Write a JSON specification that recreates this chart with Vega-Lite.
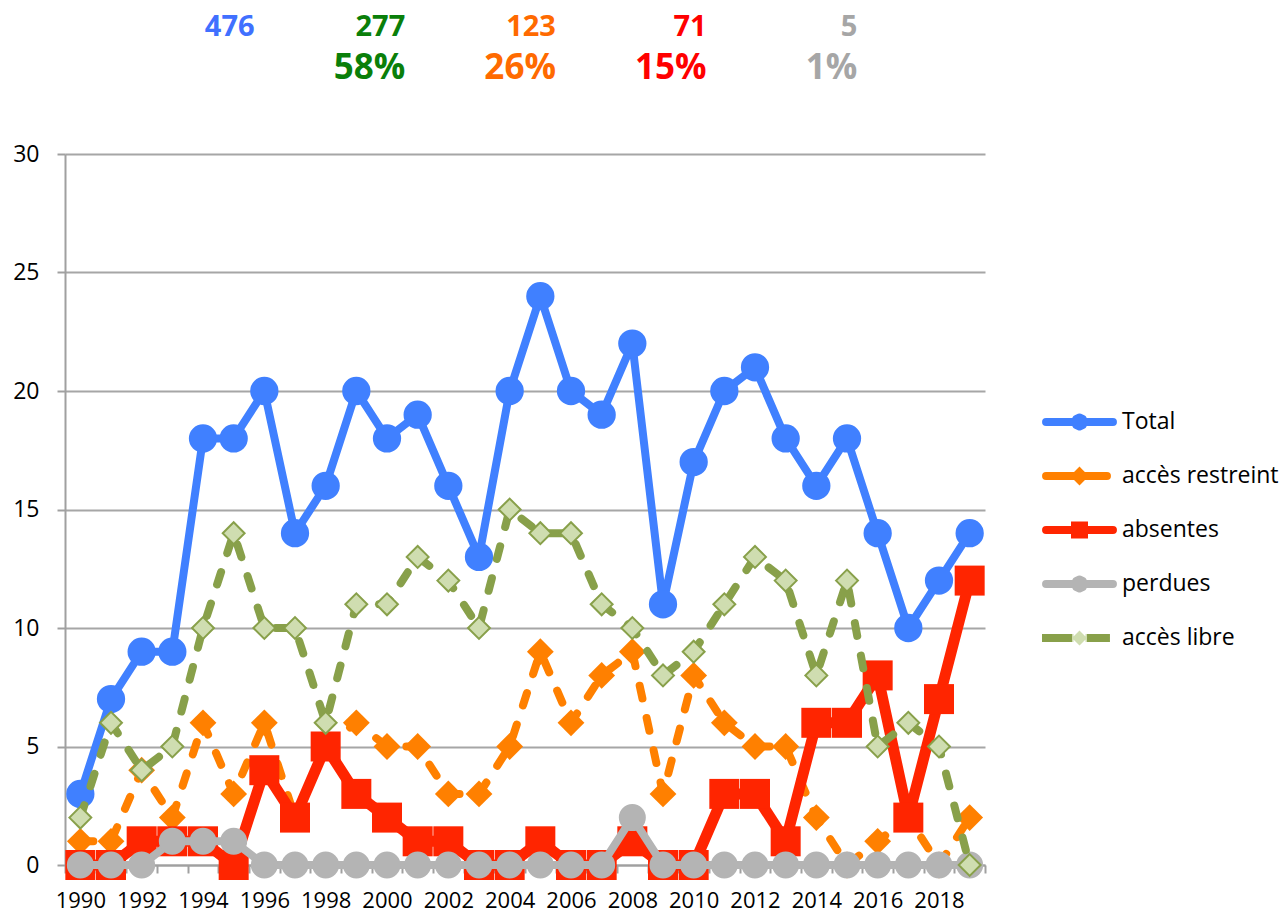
{
  "$schema": "https://vega.github.io/schema/vega-lite/v6.json",
  "width": 920,
  "height": 711,
  "autosize": {"type": "none"},
  "padding": {"left": 65, "top": 154, "right": 299, "bottom": 47},
  "config": {
    "font": "Open Sans",
    "view": {"stroke": null},
    "axis": {"labelFont": "Open Sans", "labelFontSize": 22, "labelColor": "#000000"}
  },
  "layer": [
    {
      "data": {
        "values": [
          {"year": 1990, "total": 3, "restreint": 1, "absentes": 0, "perdues": 0, "libre": 2},
          {"year": 1991, "total": 7, "restreint": 1, "absentes": 0, "perdues": 0, "libre": 6},
          {"year": 1992, "total": 9, "restreint": 4, "absentes": 1, "perdues": 0, "libre": 4},
          {"year": 1993, "total": 9, "restreint": 2, "absentes": 1, "perdues": 1, "libre": 5},
          {"year": 1994, "total": 18, "restreint": 6, "absentes": 1, "perdues": 1, "libre": 10},
          {"year": 1995, "total": 18, "restreint": 3, "absentes": 0, "perdues": 1, "libre": 14},
          {"year": 1996, "total": 20, "restreint": 6, "absentes": 4, "perdues": 0, "libre": 10},
          {"year": 1997, "total": 14, "restreint": 2, "absentes": 2, "perdues": 0, "libre": 10},
          {"year": 1998, "total": 16, "restreint": 5, "absentes": 5, "perdues": 0, "libre": 6},
          {"year": 1999, "total": 20, "restreint": 6, "absentes": 3, "perdues": 0, "libre": 11},
          {"year": 2000, "total": 18, "restreint": 5, "absentes": 2, "perdues": 0, "libre": 11},
          {"year": 2001, "total": 19, "restreint": 5, "absentes": 1, "perdues": 0, "libre": 13},
          {"year": 2002, "total": 16, "restreint": 3, "absentes": 1, "perdues": 0, "libre": 12},
          {"year": 2003, "total": 13, "restreint": 3, "absentes": 0, "perdues": 0, "libre": 10},
          {"year": 2004, "total": 20, "restreint": 5, "absentes": 0, "perdues": 0, "libre": 15},
          {"year": 2005, "total": 24, "restreint": 9, "absentes": 1, "perdues": 0, "libre": 14},
          {"year": 2006, "total": 20, "restreint": 6, "absentes": 0, "perdues": 0, "libre": 14},
          {"year": 2007, "total": 19, "restreint": 8, "absentes": 0, "perdues": 0, "libre": 11},
          {"year": 2008, "total": 22, "restreint": 9, "absentes": 1, "perdues": 2, "libre": 10},
          {"year": 2009, "total": 11, "restreint": 3, "absentes": 0, "perdues": 0, "libre": 8},
          {"year": 2010, "total": 17, "restreint": 8, "absentes": 0, "perdues": 0, "libre": 9},
          {"year": 2011, "total": 20, "restreint": 6, "absentes": 3, "perdues": 0, "libre": 11},
          {"year": 2012, "total": 21, "restreint": 5, "absentes": 3, "perdues": 0, "libre": 13},
          {"year": 2013, "total": 18, "restreint": 5, "absentes": 1, "perdues": 0, "libre": 12},
          {"year": 2014, "total": 16, "restreint": 2, "absentes": 6, "perdues": 0, "libre": 8},
          {"year": 2015, "total": 18, "restreint": 0, "absentes": 6, "perdues": 0, "libre": 12},
          {"year": 2016, "total": 14, "restreint": 1, "absentes": 8, "perdues": 0, "libre": 5},
          {"year": 2017, "total": 10, "restreint": 2, "absentes": 2, "perdues": 0, "libre": 6},
          {"year": 2018, "total": 12, "restreint": 0, "absentes": 7, "perdues": 0, "libre": 5},
          {"year": 2019, "total": 14, "restreint": 2, "absentes": 12, "perdues": 0, "libre": 0}
        ]
      },
      "encoding": {
        "x": {
          "field": "year",
          "type": "quantitative",
          "scale": {"domain": [1989.5, 2019.5], "nice": false, "zero": false},
          "axis": {
            "title": null,
            "values": [1989.5, 1990.5, 1991.5, 1992.5, 1993.5, 1994.5, 1995.5, 1996.5, 1997.5, 1998.5, 1999.5, 2000.5, 2001.5, 2002.5, 2003.5, 2004.5, 2005.5, 2006.5, 2007.5, 2008.5, 2009.5, 2010.5, 2011.5, 2012.5, 2013.5, 2014.5, 2015.5, 2016.5, 2017.5, 2018.5, 2019.5],
            "labelExpr": "((datum.value + 0.5) % 2 === 0 && datum.value < 2019) ? format(datum.value + 0.5, 'd') : ''",
            "labelOffset": 15.33,
            "labelFlush": false,
            "labelOverlap": false,
            "grid": false,
            "domain": true,
            "domainColor": "#A0A0A0",
            "domainWidth": 2,
            "tickColor": "#A0A0A0",
            "tickWidth": 2,
            "tickSize": 8,
            "labelPadding": 17
          }
        }
      },
      "layer": [
        {
          "mark": {"type": "line", "strokeWidth": 8, "strokeCap": "round", "strokeJoin": "round"},
          "encoding": {
            "y": {
              "field": "total",
              "type": "quantitative",
              "title": null,
              "scale": {"domain": [0, 30], "nice": false, "zero": true},
              "axis": {
                "title": null,
                "values": [0, 5, 10, 15, 20, 25, 30],
                "grid": true,
                "gridColor": "#A6A6A6",
                "gridWidth": 2,
                "domainColor": "#A0A0A0",
                "domainWidth": 2,
                "tickColor": "#A0A0A0",
                "tickWidth": 2,
                "tickSize": 8,
                "labelPadding": 18,
                "labelFontSize": 23
              }
            },
            "color": {
              "datum": "Total",
              "type": "nominal",
              "scale": {
                "domain": ["Total", "accès restreint", "absentes", "perdues", "accès libre"],
                "range": ["#4080FF", "#FF8000", "#FF2500", "#B4B4B4", "#88A04A"]
              },
              "legend": {
                "title": null,
                "orient": "none",
                "legendX": 973,
                "legendY": 249,
                "padding": 0,
                "gridAlign": "all",
                "symbolSize": 900,
                "symbolStrokeWidth": 8,
                "rowPadding": 12,
                "labelOffset": 46,
                "labelLimit": 300,
                "labelFont": "Open Sans",
                "labelFontSize": 23,
                "labelColor": "#000000",
                "encoding": {
                  "symbols": {
                    "shape": {
                      "condition": [
                        {"test": "datum.value === 'Total' || datum.value === 'perdues'", "value": "M-0.73,0H3.73M1.8,0L1.712,0.212L1.5,0.3L1.288,0.212L1.2,0L1.288,-0.212L1.5,-0.3L1.712,-0.212Z"},
                        {"test": "datum.value === 'accès restreint'", "value": "M-0.73,0H3.33M1.5,-0.25L1.75,0L1.5,0.25L1.25,0Z"},
                        {"test": "datum.value === 'absentes'", "value": "M-0.73,0H3.73M1.2,-0.3H1.8V0.3H1.2Z"}
                      ],
                      "value": "M-1,-0.267H1.1V0.267H-1ZM1.5,-0.5L2,0L1.5,0.5L1,0ZM1.9,-0.267H3.53V0.267H1.9Z"
                    },
                    "fill": {
                      "condition": [
                        {"test": "datum.value === 'Total'", "value": "#4080FF"},
                        {"test": "datum.value === 'accès restreint'", "value": "#FF8000"},
                        {"test": "datum.value === 'absentes'", "value": "#FF2500"},
                        {"test": "datum.value === 'perdues'", "value": "#B4B4B4"}
                      ],
                      "value": {"gradient": "linear", "x1": 0, "y1": 0, "x2": 1, "y2": 0, "stops": [
                        {"offset": 0, "color": "#88A04A"},
                        {"offset": 0.441, "color": "#88A04A"},
                        {"offset": 0.442, "color": "#CFDDB0"},
                        {"offset": 0.661, "color": "#CFDDB0"},
                        {"offset": 0.662, "color": "#88A04A"},
                        {"offset": 1, "color": "#88A04A"}
                      ]}
                    },
                    "stroke": {
                      "condition": [
                        {"test": "datum.value === 'Total'", "value": "#4080FF"},
                        {"test": "datum.value === 'accès restreint'", "value": "#FF8000"},
                        {"test": "datum.value === 'absentes'", "value": "#FF2500"},
                        {"test": "datum.value === 'perdues'", "value": "#B4B4B4"}
                      ],
                      "value": "#88A04A"
                    },
                    "strokeOpacity": {
                      "condition": {"test": "datum.value === 'accès libre'", "value": 0},
                      "value": 1
                    },
                    "strokeWidth": {"value": 8},
                    "strokeCap": {"value": "round"},
                    "strokeJoin": {
                      "condition": {"test": "datum.value === 'Total' || datum.value === 'perdues'", "value": "round"},
                      "value": "miter"
                    },
                    "opacity": {"value": 1},
                    "size": {"value": 900}
                  }
                }
              }
            }
          }
        },
        {
          "mark": {"type": "point", "shape": "circle", "size": 800, "filled": true, "color": "#4080FF", "opacity": 1, "strokeWidth": 0},
          "encoding": {"y": {"field": "total", "type": "quantitative", "title": null}}
        },
        {
          "mark": {"type": "line", "strokeWidth": 8, "strokeCap": "round", "strokeJoin": "round", "strokeDash": [13, 20]},
          "encoding": {
            "y": {"field": "restreint", "type": "quantitative", "title": null},
            "color": {"datum": "accès restreint", "type": "nominal"}
          }
        },
        {
          "mark": {"type": "point", "shape": "diamond", "size": 720, "filled": true, "color": "#FF8000", "opacity": 1, "strokeWidth": 0},
          "encoding": {"y": {"field": "restreint", "type": "quantitative", "title": null}}
        },
        {
          "mark": {"type": "line", "strokeWidth": 11, "strokeCap": "round", "strokeJoin": "round"},
          "encoding": {
            "y": {"field": "absentes", "type": "quantitative", "title": null},
            "color": {"datum": "absentes", "type": "nominal"}
          }
        },
        {
          "mark": {"type": "point", "shape": "square", "size": 900, "filled": true, "color": "#FF2500", "opacity": 1, "strokeWidth": 0},
          "encoding": {"y": {"field": "absentes", "type": "quantitative", "title": null}}
        },
        {
          "mark": {"type": "line", "strokeWidth": 8, "strokeCap": "round", "strokeJoin": "round"},
          "encoding": {
            "y": {"field": "perdues", "type": "quantitative", "title": null},
            "color": {"datum": "perdues", "type": "nominal"}
          }
        },
        {
          "mark": {"type": "point", "shape": "circle", "size": 730, "filled": true, "color": "#B4B4B4", "opacity": 1, "strokeWidth": 0},
          "encoding": {"y": {"field": "perdues", "type": "quantitative", "title": null}}
        },
        {
          "mark": {"type": "line", "strokeWidth": 8, "strokeCap": "round", "strokeJoin": "round", "strokeDash": [13, 20]},
          "encoding": {
            "y": {"field": "libre", "type": "quantitative", "title": null},
            "color": {"datum": "accès libre", "type": "nominal"}
          }
        },
        {
          "mark": {"type": "point", "shape": "diamond", "size": 480, "filled": true, "fill": "#CFDDB0", "stroke": "#88A04A", "strokeWidth": 2, "opacity": 1},
          "encoding": {"y": {"field": "libre", "type": "quantitative", "title": null}}
        }
      ]
    },
    {
      "data": {
        "values": [
          {"series": "Total", "count": "476", "share": null},
          {"series": "accès libre", "count": "277", "share": "58%"},
          {"series": "accès restreint", "count": "123", "share": "26%"},
          {"series": "absentes", "count": "71", "share": "15%"},
          {"series": "perdues", "count": "5", "share": "1%"}
        ]
      },
      "encoding": {
        "x": {
          "field": "series",
          "type": "nominal",
          "bandPosition": 1,
          "scale": {
            "type": "band",
            "domain": ["Total", "accès libre", "accès restreint", "absentes", "perdues"],
            "paddingInner": 0,
            "paddingOuter": 0.553,
            "align": 0.2335
          },
          "axis": null
        },
        "fill": {
          "field": "series",
          "type": "nominal",
          "scale": {
            "domain": ["Total", "accès libre", "accès restreint", "absentes", "perdues"],
            "range": ["#4070FF", "#0A7F0A", "#FF6A00", "#FF0000", "#A6A6A6"]
          },
          "legend": null
        }
      },
      "layer": [
        {
          "mark": {"type": "text", "align": "right", "baseline": "alphabetic", "font": "Open Sans", "fontWeight": "bold", "fontSize": 29},
          "encoding": {
            "y": {"datum": 35, "type": "quantitative", "scale": {"domain": [0, 30], "nice": false}, "axis": null},
            "text": {"field": "count", "type": "nominal"}
          }
        },
        {
          "transform": [{"filter": "datum.share != null"}],
          "mark": {"type": "text", "align": "right", "baseline": "alphabetic", "font": "Open Sans", "fontWeight": "bold", "fontSize": 35},
          "encoding": {
            "y": {"datum": 33.15, "type": "quantitative", "scale": {"domain": [0, 30], "nice": false}, "axis": null},
            "text": {"field": "share", "type": "nominal"}
          }
        }
      ]
    }
  ],
  "resolve": {"scale": {"x": "independent", "y": "independent"}}
}
